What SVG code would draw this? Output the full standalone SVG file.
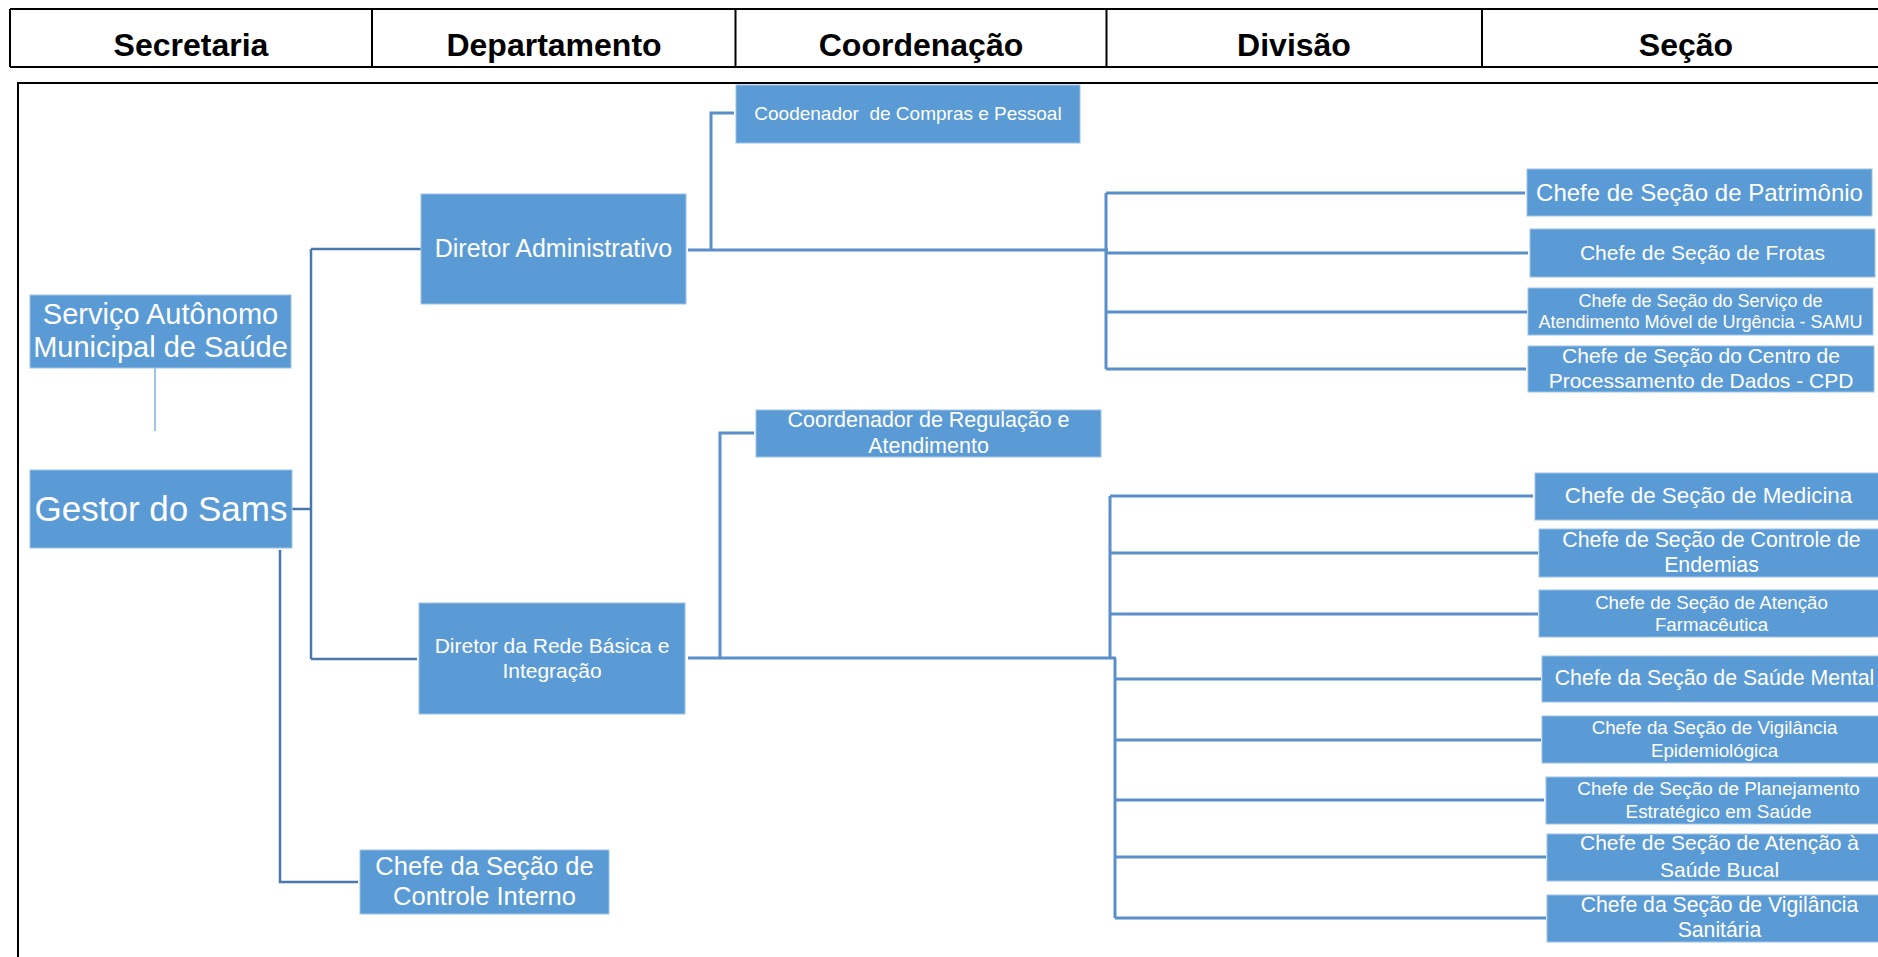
<svg xmlns="http://www.w3.org/2000/svg" width="1878" height="957" viewBox="0 0 1878 957">
<style>
.hdr{fill:none;stroke:#000;stroke-width:2}
.ht{font-family:"Liberation Sans",Arial,sans-serif;font-weight:bold;font-size:32px;fill:#000;text-anchor:middle}
.box{fill:#5B9BD5;stroke:#9DC3E6;stroke-width:1}
.t{font-family:"Liberation Sans",Arial,sans-serif;fill:#fff;text-anchor:middle}
.c{fill:none;stroke:#5B8FC9;stroke-width:3}
.cg{fill:none;stroke:#4A78AD;stroke-width:2.5}
.cl{fill:none;stroke:#82AEDB;stroke-width:1.5}
</style>
<rect width="1878" height="957" fill="#fff"/>
<g id="header">
<path class="hdr" d="M10 9H1890M10 67H1890M10 9V67M372 9V67M735.5 9V67M1106.5 9V67M1482 9V67"/>
<text class="ht" x="191" y="56">Secretaria</text>
<text class="ht" x="554" y="56">Departamento</text>
<text class="ht" x="921" y="56">Coordenação</text>
<text class="ht" x="1294" y="56">Divisão</text>
<text class="ht" x="1686" y="56">Seção</text>
</g>
<rect x="18" y="83" width="1880" height="900" fill="none" stroke="#000" stroke-width="2"/>
<g id="connectors">
<path class="cl" d="M155 368V431"/>
<path class="cg" d="M292 509H311M311 249V659M311 249H421M311 659H417"/>
<path class="cg" d="M280 550V882H358"/>
<path class="c" d="M688 250H1108M711 250V113H734"/>
<path class="c" d="M1106 193V369M1106 193H1525M1106 253H1528M1106 312H1527M1106 369H1526"/>
<path class="c" d="M688 658H1116M720 658V433H754"/>
<path class="c" d="M1110 496V658M1110 496H1533M1110 553H1538M1110 614H1538"/>
<path class="c" d="M1115 658V918M1115 679H1541M1115 740H1541M1115 800H1544M1115 857H1546M1115 918H1546"/>
</g>
<g id="servico"><rect class="box" x="30" y="295" width="261" height="73"/>
<text class="t" font-size="29"><tspan x="160.5" y="324">Serviço Autônomo</tspan><tspan x="160.5" y="357">Municipal de Saúde</tspan></text></g>
<g id="gestor"><rect class="box" x="30" y="470" width="262" height="78"/>
<text class="t" font-size="35" x="161" y="521">Gestor do Sams</text></g>
<g id="dirAdm"><rect class="box" x="421" y="194" width="265" height="110"/>
<text class="t" font-size="25" x="553.5" y="257">Diretor Administrativo</text></g>
<g id="dirRede"><rect class="box" x="419" y="603" width="266" height="111"/>
<text class="t" font-size="21"><tspan x="552" y="653">Diretor da Rede Básica e</tspan><tspan x="552" y="678">Integração</tspan></text></g>
<g id="controleInterno"><rect class="box" x="360" y="850" width="249" height="64"/>
<text class="t" font-size="25.5"><tspan x="484.5" y="875">Chefe da Seção de</tspan><tspan x="484.5" y="905">Controle Interno</tspan></text></g>
<g id="coordCompras"><rect class="box" x="736" y="85" width="344" height="58"/>
<text class="t" font-size="19" x="908" y="120" xml:space="preserve">Coodenador  de Compras e Pessoal</text></g>
<g id="coordRegulacao"><rect class="box" x="756" y="410" width="345" height="47"/>
<text class="t" font-size="21.5"><tspan x="928.5" y="427">Coordenador de Regulação e</tspan><tspan x="928.5" y="453">Atendimento</tspan></text></g>
<g id="patrimonio"><rect class="box" x="1527" y="169" width="345" height="47"/>
<text class="t" font-size="24" x="1699.5" y="201">Chefe de Seção de Patrimônio</text></g>
<g id="frotas"><rect class="box" x="1530" y="229" width="345" height="48"/>
<text class="t" font-size="21" x="1702.5" y="260">Chefe de Seção de Frotas</text></g>
<g id="samu"><rect class="box" x="1528" y="288" width="345" height="47"/>
<text class="t" font-size="18"><tspan x="1700.5" y="307">Chefe de Seção do Serviço de</tspan><tspan x="1700.5" y="328">Atendimento Móvel de Urgência - SAMU</tspan></text></g>
<g id="cpd"><rect class="box" x="1528" y="346" width="346" height="46"/>
<text class="t" font-size="21"><tspan x="1701" y="363">Chefe de Seção do Centro de</tspan><tspan x="1701" y="388">Processamento de Dados - CPD</tspan></text></g>
<g id="medicina"><rect class="box" x="1535" y="473" width="347" height="47"/>
<text class="t" font-size="22.4" x="1708.5" y="503">Chefe de Seção de Medicina</text></g>
<g id="endemias"><rect class="box" x="1539" y="529" width="345" height="48"/>
<text class="t" font-size="21.3"><tspan x="1711.5" y="547">Chefe de Seção de Controle de</tspan><tspan x="1711.5" y="572">Endemias</tspan></text></g>
<g id="farmaceutica"><rect class="box" x="1539" y="590" width="345" height="47"/>
<text class="t" font-size="18.7"><tspan x="1711.5" y="609">Chefe de Seção de Atenção</tspan><tspan x="1711.5" y="631">Farmacêutica</tspan></text></g>
<g id="saudeMental"><rect class="box" x="1542" y="656" width="345" height="46"/>
<text class="t" font-size="21.3" x="1714.5" y="685">Chefe da Seção de Saúde Mental</text></g>
<g id="vigEpidemiologica"><rect class="box" x="1542" y="716" width="345" height="47"/>
<text class="t" font-size="18.75"><tspan x="1714.5" y="734">Chefe da Seção de Vigilância</tspan><tspan x="1714.5" y="757">Epidemiológica</tspan></text></g>
<g id="planejamento"><rect class="box" x="1546" y="777" width="345" height="47"/>
<text class="t" font-size="18.9"><tspan x="1718.5" y="795">Chefe de Seção de Planejamento</tspan><tspan x="1718.5" y="818">Estratégico em Saúde</tspan></text></g>
<g id="saudeBucal"><rect class="box" x="1547" y="834" width="345" height="47"/>
<text class="t" font-size="21"><tspan x="1719.5" y="850">Chefe de Seção de Atenção à</tspan><tspan x="1719.5" y="877">Saúde Bucal</tspan></text></g>
<g id="vigSanitaria"><rect class="box" x="1547" y="895" width="345" height="47"/>
<text class="t" font-size="21.2"><tspan x="1719.5" y="912">Chefe da Seção de Vigilância</tspan><tspan x="1719.5" y="937">Sanitária</tspan></text></g>
</svg>
